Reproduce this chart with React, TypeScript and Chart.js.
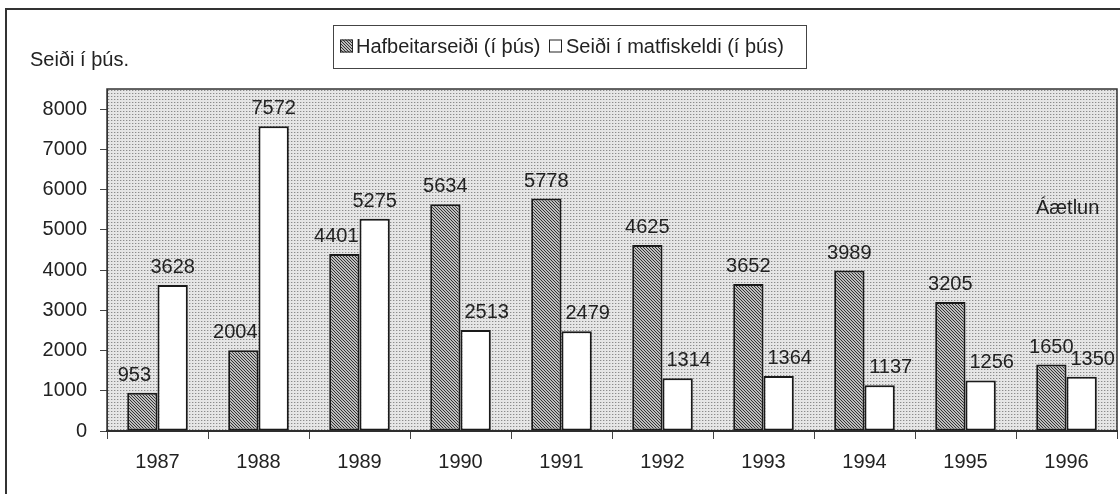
import React, { useEffect, useRef } from "react";
import { Chart, registerables } from "chart.js";

Chart.register(...registerables);

const years = ["1987", "1988", "1989", "1990", "1991", "1992", "1993", "1994", "1995", "1996"];
const hafbeitarseidi = [953, 2004, 4401, 5634, 5778, 4625, 3652, 3989, 3205, 1650];
const matfiskeldi = [3628, 7572, 5275, 2513, 2479, 1314, 1364, 1137, 1256, 1350];
const yTickValues = [0, 1000, 2000, 3000, 4000, 5000, 6000, 7000, 8000];
const legendLabels = ["Hafbeitarseiði (í þús)", "Seiði í matfiskeldi (í þús)"];
const yTitle = "Seiði í þús.";
const noteText = "Áætlun";

const FONT = "'Liberation Sans', Arial, sans-serif";
const TEXT = "#222";

function makeDotPattern(ctx: CanvasRenderingContext2D) {
  const c = document.createElement("canvas");
  c.width = 3;
  c.height = 3;
  const g = c.getContext("2d")!;
  g.fillStyle = "#e6e6e6";
  g.fillRect(0, 0, 3, 3);
  g.fillStyle = "#8c8c8c";
  g.fillRect(0, 0, 1, 1);
  g.fillStyle = "#c8c8c8";
  g.fillRect(1, 0, 1, 1);
  return ctx.createPattern(c, "repeat")!;
}

function makeHatchPattern(ctx: CanvasRenderingContext2D) {
  const c = document.createElement("canvas");
  c.width = 3;
  c.height = 3;
  const g = c.getContext("2d")!;
  g.fillStyle = "#bdbdbd";
  g.fillRect(0, 0, 3, 3);
  g.fillStyle = "#333333";
  for (let i = 0; i < 3; i++) g.fillRect(i, i, 1, 1);
  return ctx.createPattern(c, "repeat")!;
}

export default function App() {
  const ref = useRef<HTMLCanvasElement | null>(null);

  useEffect(() => {
    const canvas = ref.current!;
    const ctx = canvas.getContext("2d")!;
    const dots = makeDotPattern(ctx);
    const hatch = makeHatchPattern(ctx);

    const decor = {
      id: "decor",
      beforeDraw(chart: any) {
        const c = chart.ctx;
        const a = chart.chartArea;
        c.save();
        c.fillStyle = "#fff";
        c.fillRect(0, 0, chart.width, chart.height);
        c.fillStyle = dots;
        c.fillRect(a.left, a.top, a.right - a.left, a.bottom - a.top);
        c.restore();
      },
      afterDraw(chart: any) {
        const c = chart.ctx;
        const a = chart.chartArea;
        c.save();
        // plot border
        c.strokeStyle = "#333";
        c.lineWidth = 1.5;
        c.strokeRect(a.left, a.top, a.right - a.left, a.bottom - a.top);
        // value labels
        c.fillStyle = TEXT;
        c.font = `20px ${FONT}`;
        c.textAlign = "center";
        c.textBaseline = "alphabetic";
        chart.data.datasets.forEach((ds: any, di: number) => {
          const meta = chart.getDatasetMeta(di);
          meta.data.forEach((bar: any, i: number) => {
            let off = 0;
            if (di === 0 && i < 3) off = -8;
            if (di === 1 && i >= 3) off = 11;
            c.fillText(String(ds.data[i]), bar.x + off, bar.y - 12);
          });
        });
        // y title
        c.textAlign = "left";
        c.textBaseline = "middle";
        c.fillText(yTitle, 30, 60);
        // note
        c.fillText(noteText, 1036, 208);
        // legend
        const lx = 333, ly = 25, lw = 473, lh = 43;
        c.strokeStyle = "#444";
        c.lineWidth = 1;
        c.strokeRect(lx + 0.5, ly + 0.5, lw, lh);
        const cy = ly + lh / 2;
        c.fillStyle = hatch;
        c.fillRect(340, cy - 7, 13, 13);
        c.strokeStyle = "#222";
        c.strokeRect(340.5, cy - 6.5, 12, 12);
        c.fillStyle = TEXT;
        c.fillText(legendLabels[0], 356, cy + 1);
        c.fillStyle = "#fff";
        c.fillRect(549, cy - 7, 13, 13);
        c.strokeRect(549.5, cy - 6.5, 12, 12);
        c.fillStyle = TEXT;
        c.fillText(legendLabels[1], 566, cy + 1);
        // outer frame
        c.strokeStyle = "#333";
        c.lineWidth = 2;
        c.strokeRect(6, 9, 1300, 700);
        c.restore();
      },
    };

    const chart = new Chart(canvas, {
      type: "bar",
      data: {
        labels: years,
        datasets: [
          {
            label: legendLabels[0],
            data: hafbeitarseidi,
            backgroundColor: hatch as any,
            borderColor: "#1a1a1a",
            borderWidth: 2,
            borderSkipped: false,
          },
          {
            label: legendLabels[1],
            data: matfiskeldi,
            backgroundColor: "#ffffff",
            borderColor: "#1a1a1a",
            borderWidth: 2,
            borderSkipped: false,
          },
        ],
      },
      options: {
        animation: false,
        responsive: false,
        devicePixelRatio: 1,
        layout: { padding: { left: 0, top: 89, right: 3, bottom: 0 } },
        datasets: { bar: { categoryPercentage: 0.6, barPercentage: 1.0 } },
        plugins: { legend: { display: false }, title: { display: false }, tooltip: { enabled: false } },
        scales: {
          x: {
            grid: { offset: true, drawOnChartArea: false, drawTicks: true, tickLength: 8, color: "#444", lineWidth: 1 },
            border: { display: true, color: "#222", width: 2 },
            ticks: { color: TEXT, font: { family: FONT, size: 20 }, padding: 11, maxRotation: 0 },
            afterFit(scale: any) {
              scale.height = 494 - 431;
            },
          },
          y: {
            min: 0,
            max: 8500,
            grid: { drawOnChartArea: false, drawTicks: true, tickLength: 7, color: "#444" },
            border: { display: true, color: "#333", width: 1 },
            ticks: {
              color: TEXT,
              font: { family: FONT, size: 20 },
              padding: 13,
              callback: (v: any) => String(v),
            },
            afterBuildTicks(scale: any) {
              scale.ticks = yTickValues.map((v) => ({ value: v }));
            },
            afterFit(scale: any) {
              scale.width = 107;
            },
          },
        },
      },
      plugins: [decor],
    });
    return () => chart.destroy();
  }, []);

  return (
    <div style={{ position: "absolute", left: 0, top: 0, width: 1120, height: 494 }}>
      <canvas ref={ref} width={1120} height={494} style={{ display: "block", width: 1120, height: 494 }} />
    </div>
  );
}
